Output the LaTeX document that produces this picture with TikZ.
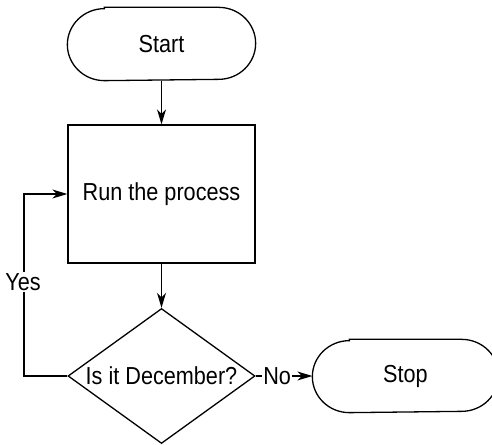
\documentclass[tikz,border=0pt]{standalone}
\usepackage{fontspec}
\setmainfont{Liberation Sans}[FakeStretch=0.88]
\usetikzlibrary{shapes.geometric,arrows.meta}
\begin{document}
\begin{tikzpicture}[x=1pt,y=1pt,
  line width=1.3pt,
  font=\fontsize{24.6}{28}\selectfont,
  term/.style={minimum width=#1, minimum height=72pt, inner sep=0pt},
  procbox/.style={draw, minimum width=187pt, minimum height=138pt, inner sep=0pt},
  decbox/.style={draw, diamond, aspect=1.385, minimum width=187pt, minimum height=135pt, inner sep=0pt},
  flow/.style={-{Stealth[length=15pt,width=9pt,inset=4.5pt]}},
  lbl/.style={fill=white, inner sep=1pt}]
\useasboundingbox (0,0) rectangle (492,444);
\node[term=187pt] (start) at (161.5,400) {Start};
\draw ([xshift=37pt]start.north west) -- ([xshift=-37pt]start.north east)
  arc[start angle=90,end angle=-90,x radius=37pt,y radius=36pt]
  -- ([xshift=37pt]start.south west)
  arc[start angle=270,end angle=90,x radius=37pt,y radius=36pt] -- cycle;
\node[procbox] (proc) at (161.5,250) {Run the process};
\node[decbox] (dec) at (161.5,68) {Is it December?};
\node[term=185pt] (stop) at (405.5,68) {Stop};
\draw ([xshift=37pt]stop.north west) -- ([xshift=-37pt]stop.north east)
  arc[start angle=90,end angle=-90,x radius=37pt,y radius=36pt]
  -- ([xshift=37pt]stop.south west)
  arc[start angle=270,end angle=90,x radius=37pt,y radius=36pt] -- cycle;
\coordinate (loopc) at (24,250);
\draw[flow] (start) -- (proc);
\draw[flow] (proc) -- (dec);
\draw[flow] (dec.west) -| (loopc) -- (proc.west);
\node[lbl] (yes) at (23,162) {Yes};
\draw[flow] (dec.east) -- node[lbl,pos=0.38] (no) {No} (stop.west);
\end{tikzpicture}
\end{document}
